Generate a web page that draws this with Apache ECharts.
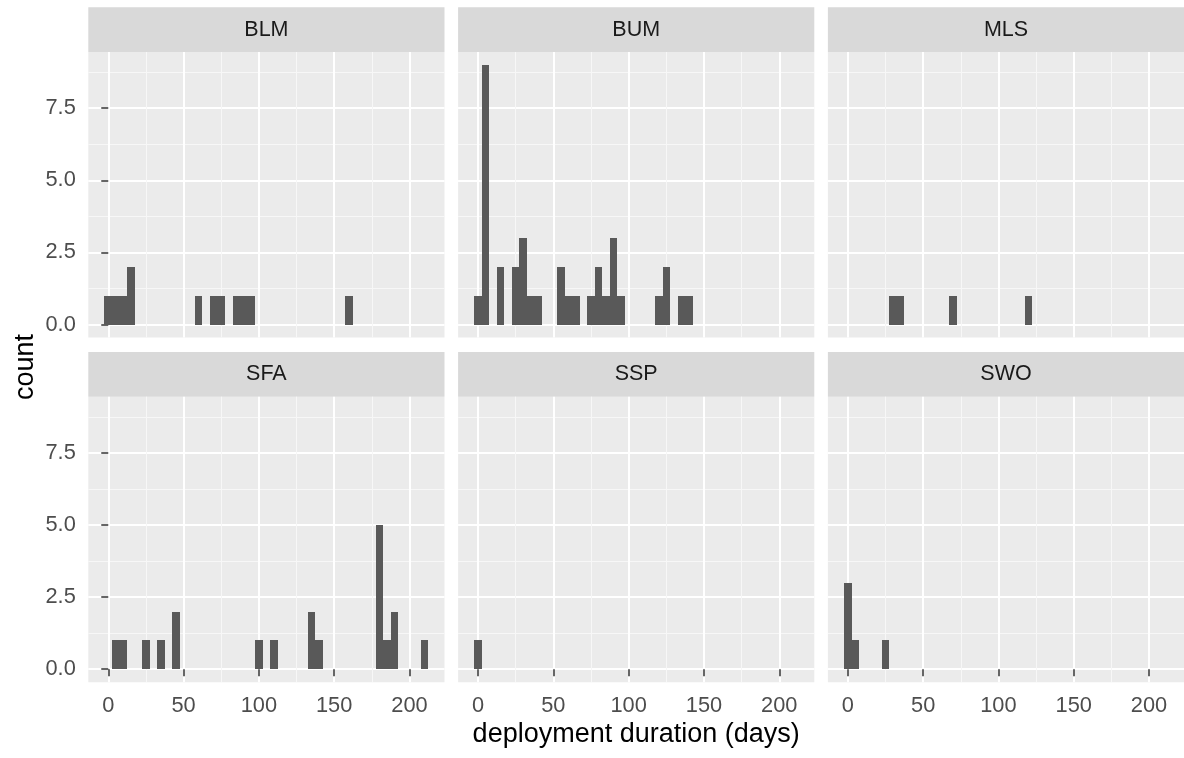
<!DOCTYPE html>
<html>
<head>
<meta charset="utf-8">
<script src="https://cdn.jsdelivr.net/npm/echarts@6/dist/echarts.min.js"></script>
<style>
  html, body { margin: 0; padding: 0; background: #ffffff; }
  #chart { width: 1184px; height: 758px; }
</style>
</head>
<body>
<div id="chart"></div>
<script>
// ---------- data (histogram bins: centre of each 5-day bin and its count) ----------
const facets = ['BLM', 'BUM', 'MLS', 'SFA', 'SSP', 'SWO'];
const binWidth = 5;

const blmBins   = [0, 5, 10, 15, 60, 70, 75, 85, 90, 95, 160];
const blmCounts = [1, 1, 1, 2, 1, 1, 1, 1, 1, 1, 1];

const bumBins   = [0, 5, 15, 25, 30, 35, 40, 55, 60, 65, 75, 80, 85, 90, 95, 120, 125, 135, 140];
const bumCounts = [1, 9, 2, 2, 3, 1, 1, 2, 1, 1, 1, 2, 1, 3, 1, 1, 2, 1, 1];

const mlsBins   = [30, 35, 70, 120];
const mlsCounts = [1, 1, 1, 1];

const sfaBins   = [5, 10, 25, 35, 45, 100, 110, 135, 140, 180, 185, 190, 210];
const sfaCounts = [1, 1, 1, 1, 2, 1, 1, 2, 1, 5, 1, 2, 1];

const sspBins   = [0];
const sspCounts = [1];

const swoBins   = [0, 5, 25];
const swoCounts = [3, 1, 1];

const xMajorTicks = [0, 50, 100, 150, 200];
const xMinorTicks = [25, 75, 125, 175];
const yMajorTicks = [0, 2.5, 5, 7.5];
const yMinorTicks = [1.25, 3.75, 6.25, 8.75];

const xTitle = 'deployment duration (days)';
const yTitle = 'count';

// ---------- layout / style ----------
const facetBins = [blmBins, bumBins, mlsBins, sfaBins, sspBins, swoBins];
const facetCounts = [blmCounts, bumCounts, mlsCounts, sfaCounts, sspCounts, swoCounts];

const xMin = -13.25, xMax = 223.25;
const yMin = -0.45, yMax = 9.45;

const panelLefts = [88.3, 458.1, 827.9];
const panelWidth = 356.2;
const rowTops = [52, 396.7];
const panelHeight = 285.5;
const stripHeight = 44.8;

const FONT = '"Liberation Sans", Arimo, Arial, Helvetica, sans-serif';
const tickFont = 21.8;

const grids = [], xAxes = [], yAxes = [], series = [], graphics = [];

facets.forEach((name, i) => {
  const col = i % 3, row = Math.floor(i / 3);
  const left = panelLefts[col], top = rowTops[row];
  const bottomRow = row === 1, leftCol = col === 0;

  grids.push({
    left: left, top: top, width: panelWidth, height: panelHeight,
    show: true, backgroundColor: '#EBEBEB', borderWidth: 0
  });

  // major x axis (carries data)
  xAxes.push({
    gridIndex: i, type: 'value', min: xMin, max: xMax,
    axisLine: { show: false },
    axisTick: { show: bottomRow, length: 7, lineStyle: { color: '#333333', width: 1.5 }, customValues: xMajorTicks },
    axisLabel: { show: bottomRow, customValues: xMajorTicks, margin: 12.5, color: '#4D4D4D',
                 fontSize: tickFont, fontFamily: FONT, formatter: v => String(v) },
    splitLine: { show: true, lineStyle: { color: '#FFFFFF', width: 2 } }
  });
  // minor x axis (grid lines only)
  xAxes.push({
    gridIndex: i, type: 'value', min: xMin, max: xMax, position: 'bottom',
    axisLine: { show: false },
    axisTick: { show: false, customValues: xMinorTicks },
    axisLabel: { show: false },
    splitLine: { show: true, lineStyle: { color: '#F7F7F7', width: 1 } }
  });
  // major y axis
  yAxes.push({
    gridIndex: i, type: 'value', min: yMin, max: yMax,
    axisLine: { show: false },
    axisTick: { show: leftCol, length: 7, lineStyle: { color: '#333333', width: 1.5 }, customValues: yMajorTicks },
    axisLabel: { show: leftCol, customValues: yMajorTicks, margin: 12.5, color: '#4D4D4D',
                 fontSize: tickFont, fontFamily: FONT, formatter: v => v.toFixed(1) },
    splitLine: { show: true, lineStyle: { color: '#FFFFFF', width: 2 } }
  });
  // minor y axis
  yAxes.push({
    gridIndex: i, type: 'value', min: yMin, max: yMax, position: 'left',
    axisLine: { show: false },
    axisTick: { show: false, customValues: yMinorTicks },
    axisLabel: { show: false },
    splitLine: { show: true, lineStyle: { color: '#F7F7F7', width: 1 } }
  });

  const bins = facetBins[i], counts = facetCounts[i];
  series.push({
    type: 'custom',
    name: name,
    xAxisIndex: 2 * i,
    yAxisIndex: 2 * i,
    z: 5,
    data: bins.map((b, j) => [b, counts[j]]),
    renderItem: function (params, api) {
      const c = api.value(0), n = api.value(1);
      const p0 = api.coord([c - binWidth / 2, n]);
      const p1 = api.coord([c + binWidth / 2, 0]);
      const x0 = Math.round(p0[0]), x1 = Math.round(p1[0]);
      const y0 = Math.round(p0[1]), y1 = Math.round(p1[1]);
      return {
        type: 'rect',
        shape: { x: x0, y: y0, width: x1 - x0, height: y1 - y0 },
        style: { fill: '#595959' }
      };
    }
  });

  // facet strip
  graphics.push({
    type: 'rect', left: left, top: top - stripHeight, silent: true,
    shape: { width: panelWidth, height: stripHeight },
    style: { fill: '#D9D9D9' }
  });
  graphics.push({
    type: 'text', x: left + panelWidth / 2, y: top - stripHeight / 2, silent: true,
    style: { text: name, x: 0, y: 0, align: 'center', verticalAlign: 'middle',
             textAlign: 'center', textVerticalAlign: 'middle',
             fill: '#1A1A1A', fontSize: 21.5, fontFamily: FONT }
  });
});

// axis titles
const panelsLeft = panelLefts[0], panelsRight = panelLefts[2] + panelWidth;
graphics.push({
  type: 'text', x: (panelsLeft + panelsRight) / 2, y: 735, silent: true,
  style: { text: xTitle, x: 0, y: 0, align: 'center', verticalAlign: 'middle',
           textAlign: 'center', textVerticalAlign: 'middle',
           fill: '#000000', fontSize: 27, fontFamily: FONT }
});
graphics.push({
  type: 'text', x: 26, y: (rowTops[0] + rowTops[1] + panelHeight) / 2, rotation: Math.PI / 2, silent: true,
  style: { text: yTitle, x: 0, y: 0, align: 'center', verticalAlign: 'middle',
           textAlign: 'center', textVerticalAlign: 'middle',
           fill: '#000000', fontSize: 27, fontFamily: FONT }
});

const chart = echarts.init(document.getElementById('chart'), null, { renderer: 'canvas' });
chart.setOption({
  animation: false,
  backgroundColor: '#FFFFFF',
  grid: grids,
  xAxis: xAxes,
  yAxis: yAxes,
  series: series,
  graphic: { elements: graphics }
});
</script>
</body>
</html>
